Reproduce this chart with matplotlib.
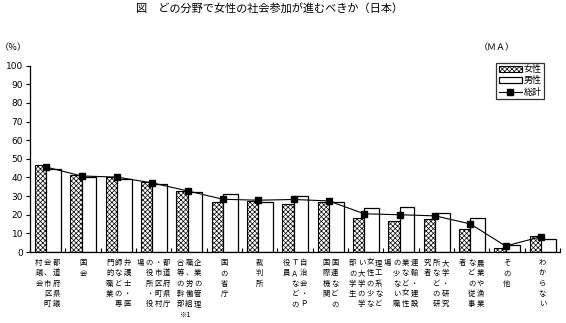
import matplotlib
matplotlib.use("Agg")
import matplotlib.pyplot as plt
from matplotlib.patches import Patch
from matplotlib.lines import Line2D

CJK = ["Noto Sans CJK JP", "DejaVu Sans"]
plt.rcParams['font.family'] = CJK
plt.rcParams['hatch.linewidth'] = 0.5

categories = ["都道府県議会、市区町村議会", "国会", "弁護士・医師などの専門的職業",
              "都道府県庁・市区町村の役所・役場", "企業の管理職、労働組合等の幹部",
              "国の省庁", "裁判所", "自治会・ＰＴＡなどの役員", "国連などの国際機関",
              "理工系など女性の少ない大学の学部の学生", "運輸・建設業など女性の少ない職場",
              "大学・研究所などの研究者", "農業や漁業などの従事者", "その他", "わからない"]
female = [46.5, 41.3, 40.0, 37.4, 32.5, 26.6, 27.4, 26.0, 26.9, 18.0, 16.6, 17.6, 12.1, 2.0, 8.4]
male = [44.8, 40.5, 39.4, 36.7, 32.4, 30.9, 27.1, 29.8, 27.1, 23.4, 23.9, 20.7, 18.0, 3.6, 6.8]
total = [45.6, 40.8, 40.2, 37.1, 32.8, 28.3, 27.8, 28.2, 27.4, 20.5, 20.0, 19.4, 15.1, 3.2, 8.2]
series_names = ["女性", "男性", "総計"]
yticks = list(range(0, 101, 10))
title = "図　どの分野で女性の社会参加が進むべきか（日本）"
note_idx = 4
note_text = "※1"

fig = plt.figure(figsize=(5.66, 3.23), dpi=100)
ax = fig.add_axes([30/566, 71/323, 530/566, 186.3/323])

x = list(range(len(categories)))
ax.bar([i - 0.2 for i in x], female, width=0.32, facecolor='white', edgecolor='black',
       hatch='xxxxxxx', linewidth=0.8, zorder=2)
ax.bar([i + 0.17 for i in x], male, width=0.42, facecolor='white', edgecolor='black',
       linewidth=0.9, zorder=2)
ax.plot([i - 0.04 for i in x], total, color='black', linewidth=0.8, marker='s',
        markersize=5, zorder=3)

ax.set_xlim(-0.5, len(categories) - 0.5)
ax.set_ylim(0, 100)
ax.set_yticks(yticks)
ax.set_yticklabels([str(v) for v in yticks], fontsize=6.5, family='DejaVu Sans')
ax.set_xticks([i - 0.5 for i in range(len(categories) + 1)])
ax.set_xticklabels([])
ax.tick_params(axis='x', direction='in', length=3, width=0.8)
ax.tick_params(axis='y', direction='out', length=3, width=0.8, pad=2)
for s in ['top', 'right']:
    ax.spines[s].set_visible(False)
for s in ['left', 'bottom']:
    ax.spines[s].set_linewidth(0.9)

# vertical (tategaki) category labels, columns right-to-left, 5 chars each
pitch = 8.7
for i, lab in enumerate(categories):
    cols = [lab[k:k + 5] for k in range(0, len(lab), 5)]
    n = len(cols)
    for c, chunk in enumerate(cols):
        dx = ((n - 1) / 2 - c) * pitch
        for r, ch in enumerate(chunk):
            ax.annotate(ch, xy=(i, 0), xycoords=('data', 'axes fraction'),
                        xytext=(dx, -11 - r * 10.3), textcoords='offset pixels',
                        ha='center', va='center', fontsize=5.3, family=CJK)
ax.annotate(note_text, xy=(note_idx, 0), xycoords=('data', 'axes fraction'),
            xytext=(-3, -63), textcoords='offset pixels', ha='center', va='center',
            fontsize=5.3, family=CJK)

fig.text(269/566, 1 - 8/323, title, ha='center', va='center', fontsize=8)
fig.text(13/566, 1 - 48/323, "（％）", ha='center', va='center', fontsize=6.5)
fig.text(497/566, 1 - 48/323, "（ＭＡ）", ha='center', va='center', fontsize=6.5)

handles = [Patch(facecolor='white', edgecolor='black', hatch='xxxxxxx', linewidth=0.8),
           Patch(facecolor='white', edgecolor='black', linewidth=0.9),
           Line2D([], [], color='black', linewidth=0.8, marker='s', markersize=5)]
leg = ax.legend(handles, series_names, loc='upper right', bbox_to_anchor=(0.970, 1.016),
                borderaxespad=0, fancybox=False, frameon=True, fontsize=6.5,
                handlelength=2.6, handleheight=0.6, handletextpad=0.2,
                labelspacing=0.25, borderpad=0.25)
leg.get_frame().set_edgecolor('black')
leg.get_frame().set_linewidth(0.9)

fig.savefig("out.png", dpi=100)
